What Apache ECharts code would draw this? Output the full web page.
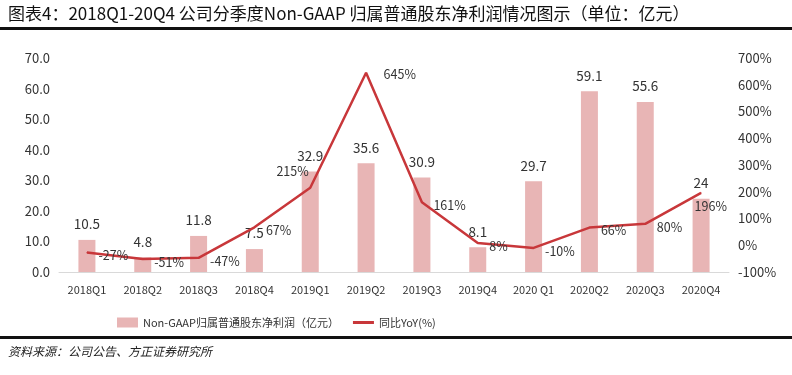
<!DOCTYPE html>
<html lang="zh">
<head>
    <meta charset="UTF-8">
    <title>Non-GAAP 归属普通股东净利润</title>
    <script src="https://cdn.jsdelivr.net/npm/echarts@6/dist/echarts.min.js"></script>
    <style>
        body { margin: 0; background: #fff; }
    </style>
</head>
<body>
    <div id="main" style="width: 792px; height: 375px;"></div>
    <script type="text/javascript">
        // 季度
        const categories = ['2018Q1', '2018Q2', '2018Q3', '2018Q4', '2019Q1', '2019Q2',
            '2019Q3', '2019Q4', '2020 Q1', '2020Q2', '2020Q3', '2020Q4'];
        // Non-GAAP 归属普通股东净利润（亿元）
        const profit = [10.5, 4.8, 11.8, 7.5, 32.9, 35.6, 30.9, 8.1, 29.7, 59.1, 55.6, 24];
        // 同比 YoY (%)
        const yoy = [-27, -51, -47, 67, 215, 645, 161, 8, -10, 66, 80, 196];

        const font = '"Noto Sans CJK SC", sans-serif';
        const lineColor = '#c8373a';
        const barColor = '#e8b5b5';

        // a few line labels sit somewhere other than right of the point
        const labelOverride = {
            4: { position: 'left', offset: [4, -16] },
            5: { position: 'right', offset: [12, 2] },
            11: { position: 'right', offset: [-12, 13] }
        };

        const yoyData = yoy.map((v, i) => {
            const item = { value: v };
            if (labelOverride[i]) item.label = labelOverride[i];
            return item;
        });

        let myChart = echarts.init(document.getElementById('main'));

        const options = {
            animation: false,
            textStyle: { fontFamily: font },
            grid: { left: 59, right: 63, top: 58, bottom: 103 },
            legend: {
                left: 112,
                top: 312,
                itemWidth: 21,
                itemHeight: 10,
                itemGap: 14,
                textStyle: { fontSize: 11, color: '#333', fontFamily: font },
                data: [
                    { name: 'Non-GAAP归属普通股东净利润（亿元）', icon: 'rect' },
                    { name: '同比YoY(%)', icon: 'path://M0 0h21v3H0z', itemStyle: { color: lineColor } }
                ]
            },
            xAxis: {
                type: 'category',
                data: categories,
                axisLine: { lineStyle: { color: '#d9d9d9', width: 1 } },
                axisTick: { show: false },
                axisLabel: { color: '#333', fontSize: 11, margin: 12, interval: 0 }
            },
            yAxis: [
                {
                    type: 'value',
                    min: 0,
                    max: 70,
                    interval: 10,
                    splitLine: { show: false },
                    axisLabel: {
                        color: '#333',
                        fontSize: 13,
                        margin: 9,
                        formatter: v => v.toFixed(1)
                    }
                },
                {
                    type: 'value',
                    min: -100,
                    max: 700,
                    interval: 100,
                    splitLine: { show: false },
                    axisLabel: {
                        color: '#333',
                        fontSize: 13,
                        margin: 9,
                        formatter: v => v + '%'
                    }
                }
            ],
            series: [
                {
                    name: 'Non-GAAP归属普通股东净利润（亿元）',
                    type: 'bar',
                    data: profit,
                    barWidth: 17,
                    itemStyle: { color: barColor },
                    label: {
                        show: true,
                        position: 'top',
                        distance: 9,
                        color: '#333',
                        fontSize: 13.5
                    }
                },
                {
                    name: '同比YoY(%)',
                    type: 'line',
                    yAxisIndex: 1,
                    data: yoyData,
                    symbol: 'circle',
                    symbolSize: 1,
                    showSymbol: true,
                    lineStyle: { color: lineColor, width: 2.5 },
                    itemStyle: { color: lineColor },
                    label: {
                        show: true,
                        position: 'right',
                        offset: [6, 3],
                        color: '#333',
                        fontSize: 12.5,
                        formatter: p => p.value + '%'
                    }
                }
            ],
            graphic: [
                {
                    type: 'text',
                    left: 8,
                    top: 5,
                    style: {
                        text: '图表4：2018Q1-20Q4 公司分季度Non-GAAP 归属普通股东净利润情况图示（单位：亿元）',
                        font: '17px "Noto Sans CJK SC", sans-serif',
                        fill: '#111'
                    }
                },
                {
                    type: 'rect',
                    shape: { x: 0, y: 27, width: 792, height: 3 },
                    style: { fill: '#111' }
                },
                {
                    type: 'rect',
                    shape: { x: 0, y: 336, width: 792, height: 3 },
                    style: { fill: '#111' }
                },
                {
                    type: 'text',
                    left: 8,
                    top: 345,
                    style: {
                        text: '资料来源：公司公告、方正证券研究所',
                        font: 'italic 12px "Noto Sans CJK SC", sans-serif',
                        fill: '#222'
                    }
                }
            ]
        };

        myChart.setOption(options);
    </script>
</body>
</html>
